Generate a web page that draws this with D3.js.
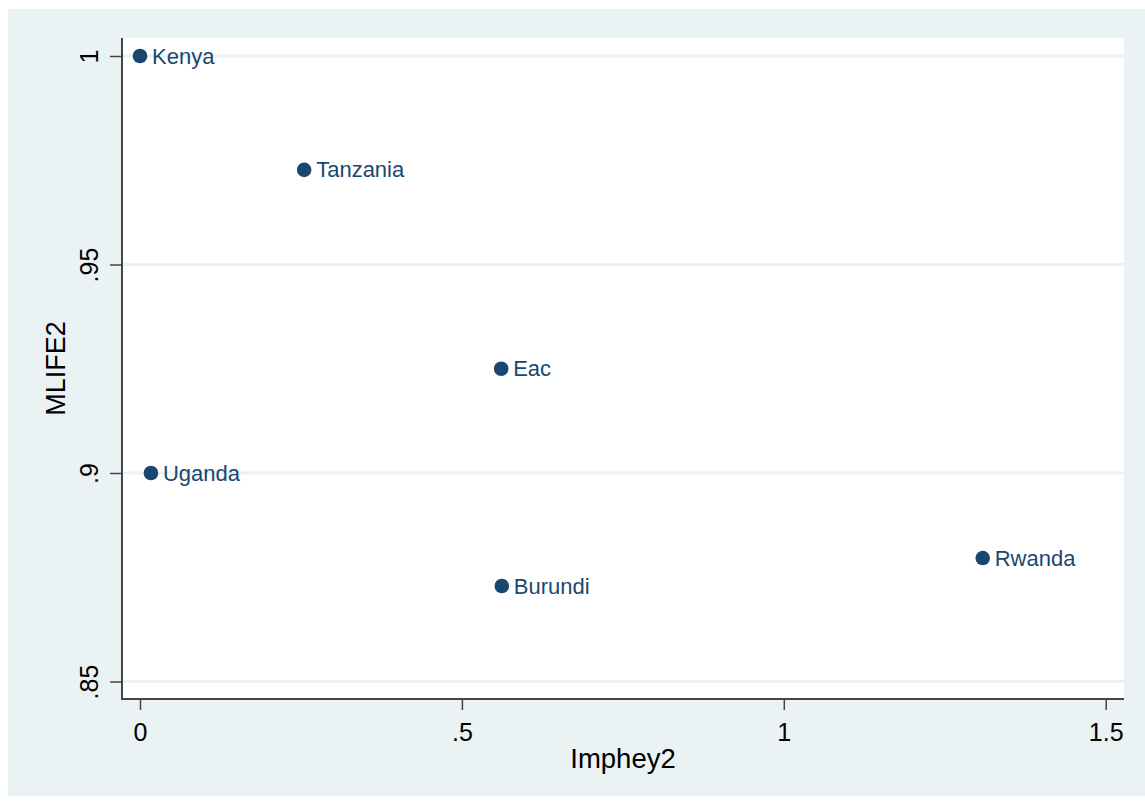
<!DOCTYPE html>
<html><head><meta charset="utf-8">
<script src="https://cdn.jsdelivr.net/npm/d3@7"></script>
<style>body{margin:0;background:#fff}svg{display:block}text{font-family:Arial,"Liberation Sans",sans-serif}</style>
</head><body><svg id="c" width="1145" height="801"></svg>
<script>
const countries = ["Kenya","Tanzania","Eac","Uganda","Burundi","Rwanda"];
const imphey2 = [0, 0.255, 0.561, 0.017, 0.562, 1.309];
const mlife2 = [1.0, 0.9727, 0.925, 0.900, 0.8729, 0.8796];
const xTicks = [0, 0.5, 1, 1.5];
const xTickLabels = ["0", ".5", "1", "1.5"];
const yTicks = [0.85, 0.9, 0.95, 1];
const yTickLabels = [".85", ".9", ".95", "1"];

const svg = d3.select("#c");
const navy = "#1a476f";
svg.append("rect").attr("x",8).attr("y",9).attr("width",1137).attr("height",787).attr("fill","#eaf2f3");
const L=122, T=38, R=1124, B=699;
svg.append("rect").attr("x",L).attr("y",T).attr("width",R-L).attr("height",B-T).attr("fill","#fff");
const x = d3.scaleLinear().domain([0,1.5]).range([140,1105.7]);
const y = d3.scaleLinear().domain([0.85,1]).range([681.5,56]);

// grid
svg.append("g").selectAll("line").data(yTicks).join("line")
  .attr("x1",L).attr("x2",R).attr("y1",d=>y(d)).attr("y2",d=>y(d))
  .attr("stroke","#eaf2f3").attr("stroke-width",3);

// axes
const ya = svg.append("g").attr("transform",`translate(${L},0)`)
  .call(d3.axisLeft(y).tickValues(yTicks).tickFormat((d,i)=>yTickLabels[i]).tickSize(12).tickSizeOuter(0));
ya.select(".domain").remove();
ya.append("line").attr("x1",0).attr("x2",0).attr("y1",T).attr("y2",B+1).attr("stroke","#444").attr("stroke-width",2);
ya.selectAll(".tick line").attr("stroke","#444").attr("stroke-width",1.5);
ya.selectAll(".tick text").attr("transform","rotate(-90)").attr("x",0).attr("y",-24).attr("dy",0)
  .attr("text-anchor","middle").attr("fill","#000").attr("font-size",25)
  .style("font-family","Arial, 'Liberation Sans', sans-serif");

const xa = svg.append("g").attr("transform",`translate(0,${B})`)
  .call(d3.axisBottom(x).tickValues(xTicks).tickFormat((d,i)=>xTickLabels[i]).tickSize(11).tickSizeOuter(0));
xa.select(".domain").remove();
xa.append("line").attr("x1",L-1).attr("x2",R).attr("y1",0).attr("y2",0).attr("stroke","#444").attr("stroke-width",2);
xa.selectAll(".tick line").attr("stroke","#444").attr("stroke-width",1.5);
xa.selectAll(".tick text").attr("y",42).attr("dy",0).attr("fill","#000").attr("font-size",25)
  .style("font-family","Arial, 'Liberation Sans', sans-serif");

// titles
svg.append("text").attr("x",(L+R)/2).attr("y",768).attr("text-anchor","middle").attr("font-size",27.5).text("Imphey2");
svg.append("text").attr("transform",`translate(65,${(T+B)/2}) rotate(-90)`).attr("text-anchor","middle").attr("font-size",27).text("MLIFE2");

// points
const data = countries.map((c,i)=>({c, x:imphey2[i], y:mlife2[i]}));
const g = svg.append("g");
g.selectAll("circle").data(data).join("circle")
  .attr("cx",d=>x(d.x)).attr("cy",d=>y(d.y)).attr("r",7.3).attr("fill",navy);
g.selectAll("text").data(data).join("text")
  .attr("x",d=>x(d.x)+12).attr("y",d=>y(d.y)+7.5).attr("fill",navy).attr("font-size",22).text(d=>d.c);
</script></body></html>
